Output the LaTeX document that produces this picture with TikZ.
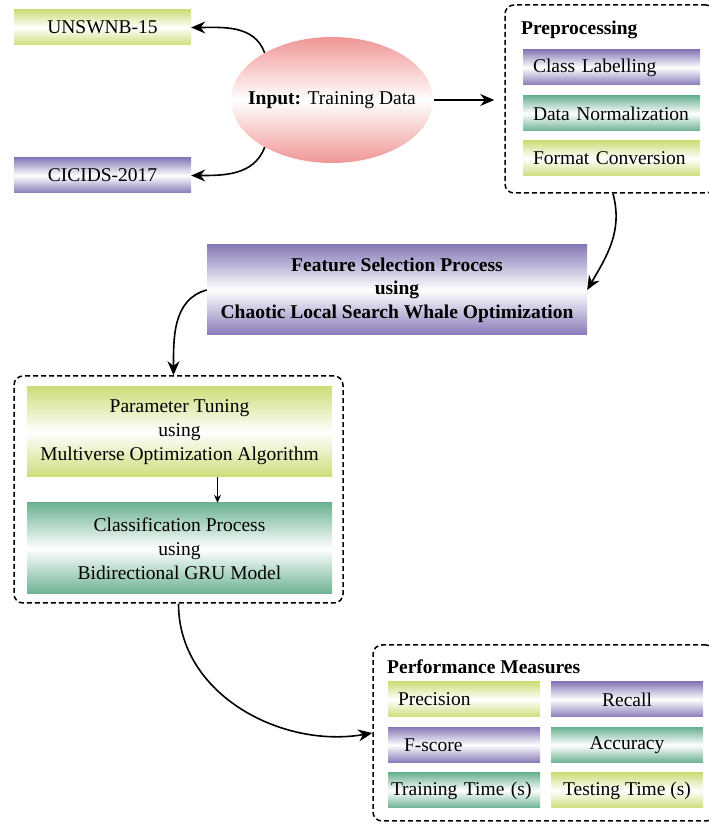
\documentclass[tikz,border=0pt]{standalone}
\usepackage{fontspec}
\setmainfont{Liberation Serif}
\usetikzlibrary{shapes.geometric,arrows.meta}
\definecolor{limec}{RGB}{204,222,122}
\definecolor{purplec}{RGB}{136,122,184}
\definecolor{tealc}{RGB}{108,178,146}
\definecolor{pinkc}{RGB}{240,150,150}

\begin{document}
\begin{tikzpicture}[x=1pt,y=1pt,
    box/.style={minimum height=35pt, inner sep=0pt, font=\fontsize{19.5}{24}\selectfont},
    limebox/.style={box, top color=limec, bottom color=limec, middle color=white},
    purplebox/.style={box, top color=purplec, bottom color=purplec, middle color=white},
    tealbox/.style={box, top color=tealc, bottom color=tealc, middle color=white},
    lefttext/.style={text width=#1, align=left, inner xsep=10pt},
    dashbox/.style={draw, line width=1.5pt, dash pattern=on 5pt off 3pt, rounded corners=9pt, inner sep=0pt},
    head/.style={anchor=west, inner sep=0pt, font=\fontsize{19.5}{24}\selectfont\bfseries},
    arr/.style={-{Stealth[length=14pt,width=12pt]}, line width=1.6pt}]
  \useasboundingbox (0,0) rectangle (709,823);

  % input and data sets
  \node[ellipse, minimum width=202pt, minimum height=126pt, inner sep=0pt,
    top color=pinkc, bottom color=pinkc, middle color=white] (in) at (332,723) {};
  \node[font=\fontsize{19.5}{24}\selectfont] (intext) at (in.center) {\textbf{Input:} Training Data};
  \node[limebox, minimum width=177pt] (uns) at (102.5,795.5) {UNSWNB-15};
  \node[purplebox, minimum width=177pt] (cic) at (102.5,647.5) {CICIDS-2017};

  % preprocessing
  \node[dashbox, minimum width=210pt, minimum height=188pt] (pre) at (610,724) {};
  \node[head] (prehead) at (521,793) {Preprocessing};
  \node[purplebox, lefttext=157pt] (cl) at (611.5,755.5) {Class Labelling};
  \node[tealbox, lefttext=157pt] (dn) at (611.5,709.5) {Data Normalization};
  \node[limebox, lefttext=157pt] (fc) at (611.5,664.5) {Format Conversion};

  % feature selection
  \node[purplebox, minimum width=380pt, minimum height=90pt, align=center,
    font=\fontsize{19.5}{23.5}\selectfont\bfseries] (fs) at (397,533)
    {Feature Selection Process\\using\\Chaotic Local Search Whale Optimization};

  % tuning and classification
  \node[dashbox, minimum width=329pt, minimum height=227pt] (bx) at (178.5,333.5) {};
  \node[limebox, minimum width=305pt, minimum height=90pt, align=center] (pt) at (179.5,391)
    {Parameter Tuning\\using\\Multiverse Optimization Algorithm};
  \node[tealbox, minimum width=305pt, minimum height=91pt, align=center] (cp) at (179.5,274.5)
    {Classification Process\\using\\Bidirectional GRU Model};

  % performance measures
  \node[dashbox, minimum width=342pt, minimum height=176pt] (perf) at (544,90) {};
  \node[head] (perfhead) at (387,156) {Performance Measures};
  \node[limebox, lefttext=132pt] (prec) at (464,123.5) {Precision};
  \node[purplebox, minimum width=152pt] (rec) at (627,123.5) {Recall};
  \node[purplebox, lefttext=132pt] (fsc) at (464,78) {\hspace{6pt}F-score};
  \node[tealbox, minimum width=152pt] (acc) at (627,78) {Accuracy};
  \node[tealbox, lefttext=146pt, inner xsep=3pt] (trt) at (464,32.5) {Training Time (s)};
  \node[limebox, minimum width=152pt] (tet) at (627,32.5) {Testing Time (s)};

  % connectors
  \draw[arr] (in.145) to[out=110,in=0] (uns.east);
  \draw[arr] (in.215) to[out=250,in=0] (cic.east);
  \draw[arr, shorten >=10pt, shorten <=1pt] (in.east) -- (in.east -| pre.west);
  \draw[arr] ([xshift=3pt]pre.south) to[out=-75,in=60] (fs.east);
  \draw[arr] (fs.west) to[out=195,in=90] ([xshift=-5pt]bx.north);
  \draw[-{Stealth[length=8pt,width=7pt]}, line width=1pt] ([xshift=38pt]pt.south) -- ([xshift=38pt]cp.north);
  \draw[arr] (bx.south) to[out=-90,in=190] (perf.west);
\end{tikzpicture}
\end{document}
